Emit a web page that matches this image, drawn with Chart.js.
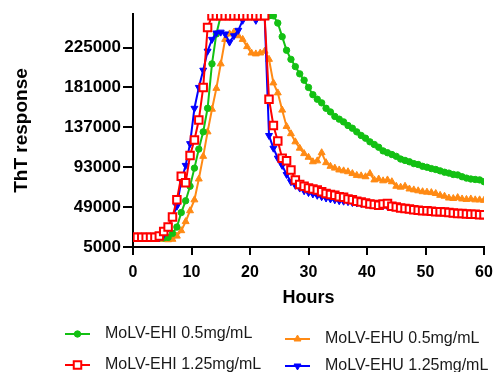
<!DOCTYPE html>
<html lang="en">
<head>
<meta charset="UTF-8">
<title>ThT response</title>
<script src="https://cdn.jsdelivr.net/npm/chart.js"></script>
<style>
  html, body { margin: 0; padding: 0; background: #fff; }
</style>
</head>
<body>
<canvas id="thtChart" width="495" height="372"></canvas>
<script>
// sampling times (hours), one read every 45 min
const hours = [0, 0.75, 1.5, 2.25, 3, 3.75, 4.5, 5.25, 6, 6.75, 7.5, 8.25, 9, 9.75, 10.5, 11.25,
  12, 12.75, 13.5, 14.25, 15, 15.75, 16.5, 17.25, 18, 18.75, 19.5, 20.25, 21, 21.75, 22.5, 23.25,
  24, 24.75, 25.5, 26.25, 27, 27.75, 28.5, 29.25, 30, 30.75, 31.5, 32.25, 33, 33.75, 34.5, 35.25,
  36, 36.75, 37.5, 38.25, 39, 39.75, 40.5, 41.25, 42, 42.75, 43.5, 44.25, 45, 45.75, 46.5, 47.25,
  48, 48.75, 49.5, 50.25, 51, 51.75, 52.5, 53.25, 54, 54.75, 55.5, 56.25, 57, 57.75, 58.5, 59.25, 60];

const ehi05 = [15000, 15000, 15000, 15000, 15000, 15000, 15000, 15000,
  15500, 20000, 27000, 43000, 56000, 72000, 92000, 113000, 132000, 158000, 207000, 240000,
  260000, 260000, 260000, 260000, 260000, 260000, 260000, 260000, 260000, 260000, 260000, 260000, 260000,
  252000, 237000, 222000, 212000, 204000, 196000, 189000, 181000, 173000, 168000,
  164000, 158000, 154000, 149000, 146000, 143000, 139000, 136000, 132000, 128000,
  125000, 121000, 118000, 115000, 111000, 109000, 107000, 105000, 102000, 100500,
  99000, 97000, 96000, 94000, 93000, 91500, 90500, 89000, 87500, 86500,
  85000, 84500, 82500, 81000, 80000, 79500, 79000, 77000];

const ehu05 = [13500, 13500, 13500, 13500, 13500, 13500, 13500, 13500,
  13000, 13500, 17000, 23000, 33000, 45000, 57000, 80000, 105000, 132000, 157000, 180000,
  207000, 234000, 240000, 242000, 238000, 234000, 226000, 219000, 218000, 219000, 221000,
  212000, 186000, 175000, 156000, 138000, 130000, 121000, 114000, 108000, 104000,
  99000, 100000, 109000, 98000, 94000, 92000, 90000, 89000, 88000, 86000,
  84000, 83500, 82500, 86000, 79000, 80000, 78000, 79000, 77000, 72000,
  71000, 72000, 69000, 68000, 67000, 66000, 65500, 65000, 64000, 62000,
  61000, 59000, 58500, 59500, 58000, 57500, 58000, 57000, 57000, 56500];

const ehi125 = [15700, 15700, 15700, 15700, 15700, 15700, 17000,
  22000, 27000, 38000, 57000, 83000, 76000, 106000, 123000, 145000, 181000, 247000,
  260000, 260000, 260000, 260000, 260000, 260000, 260000, 260000, 260000, 260000, 260000, 260000, 260000,
  168000, 139000, 122000, 103000, 100000, 90000, 79000, 74000, 72000, 70000,
  69000, 68000, 66000, 64000, 63000, 62000, 60500, 60000, 58000, 57000,
  55500, 54500, 53500, 52500, 52000, 51000, 52500, 53000, 50000, 49000,
  48000, 47500, 47000, 46000, 45500, 45000, 45000, 44500, 44000, 43800,
  43500, 43000, 42500, 42000, 42000, 41500, 41000, 41000, 40500, 40500];

const ehu125 = [15500, 15500, 15500, 15500, 15500, 15500, 15500,
  19000, 26000, 38000, 50000, 78000, 95000, 119000, 158000, 181000, 200000, 221000,
  234000, 241000, 242000, 240000, 231000, 238000, 244000, 255000, 260000, 260000, 255000, 260000, 260000,
  128000, 114000, 103000, 95000, 85000, 77000, 73000, 70000, 67000, 65000,
  63500, 62000, 60500, 59000, 58000, 57000, 56000, 55500, 55000, 54000,
  53500, 53000, 52500, 52000, 51500, 51000, 50500, 50000, 49500, 49000,
  48500, 48000, 47500, 47000, 46500, 46000, 45500, 45000, 45000, 44500,
  44500, 44000, 44000, 43500, 43500, 43000, 43000, 43000, 42500, 42500];

const seriesNames = ['MoLV-EHI 0.5mg/mL', 'MoLV-EHU 0.5mg/mL', 'MoLV-EHI 1.25mg/mL', 'MoLV-EHU 1.25mg/mL'];
const yTicks = [5000, 49000, 93000, 137000, 181000, 225000];

const FONT = "'Liberation Sans', Arial, sans-serif";
Chart.defaults.font.family = FONT;
Chart.defaults.color = '#000';

function toPoints(vals) {
  return hours.map((h, i) => ({ x: h, y: vals[i] }));
}

function drawMarker(ctx, ds, x, y) {
  const r = ds.pointRadius;
  ctx.save();
  ctx.translate(x, y);
  ctx.rotate((ds.pointRotation || 0) * Math.PI / 180);
  ctx.beginPath();
  if (ds.pointStyle === 'circle') {
    ctx.arc(0, 0, r, 0, Math.PI * 2);
  } else if (ds.pointStyle === 'rect') {
    const s = r * Math.SQRT1_2;
    ctx.rect(-s, -s, 2 * s, 2 * s);
  } else {
    ctx.moveTo(0, -r);
    ctx.lineTo(r * 0.866, r * 0.5);
    ctx.lineTo(-r * 0.866, r * 0.5);
    ctx.closePath();
  }
  ctx.fillStyle = ds.pointBackgroundColor || ds.borderColor;
  ctx.fill();
  ctx.lineWidth = ds.pointBorderWidth || 1;
  ctx.strokeStyle = ds.borderColor;
  ctx.stroke();
  ctx.restore();
}

// two-column legend under the axis, line + marker + label
const lineLegend = {
  id: 'lineLegend',
  afterDraw(chart) {
    const ctx = chart.ctx;
    const spots = [[65, 334], [285, 339], [65, 365], [285, 366]];
    chart.data.datasets.forEach((ds, i) => {
      const [x, y] = spots[i];
      ctx.save();
      ctx.strokeStyle = ds.borderColor;
      ctx.lineWidth = 2;
      ctx.beginPath();
      ctx.moveTo(x, y);
      ctx.lineTo(x + 25, y);
      ctx.stroke();
      ctx.restore();
      drawMarker(ctx, ds, x + 12.5, y);
      ctx.save();
      ctx.fillStyle = '#1a1a1a';
      ctx.font = '16px ' + FONT;
      ctx.textBaseline = 'middle';
      ctx.textAlign = 'left';
      ctx.fillText(ds.label, x + 40, y);
      ctx.restore();
    });
  }
};

const ctx = document.getElementById('thtChart').getContext('2d');
new Chart(ctx, {
  type: 'line',
  data: {
    datasets: [{
      label: seriesNames[0],
      data: toPoints(ehi05),
      borderColor: '#13c013',
      backgroundColor: '#13c013',
      pointBackgroundColor: '#13c013',
      pointStyle: 'circle',
      pointRadius: 3.2,
      pointBorderWidth: 1,
      borderWidth: 2,
      order: 3
    }, {
      label: seriesNames[1],
      data: toPoints(ehu05),
      borderColor: '#ff8a14',
      backgroundColor: '#ff8a14',
      pointBackgroundColor: '#ff8a14',
      pointStyle: 'triangle',
      pointRadius: 4,
      pointBorderWidth: 1,
      borderWidth: 2,
      order: 4
    }, {
      label: seriesNames[2],
      data: toPoints(ehi125),
      borderColor: '#ff0000',
      backgroundColor: '#ffffff',
      pointBackgroundColor: '#ffffff',
      pointStyle: 'rect',
      pointRadius: 5.3,
      pointBorderWidth: 2,
      borderWidth: 2,
      order: 1
    }, {
      label: seriesNames[3],
      data: toPoints(ehu125),
      borderColor: '#0000ff',
      backgroundColor: '#0000ff',
      pointBackgroundColor: '#0000ff',
      pointStyle: 'triangle',
      pointRotation: 180,
      pointRadius: 4,
      pointBorderWidth: 1,
      borderWidth: 2,
      order: 2
    }]
  },
  options: {
    responsive: false,
    animation: false,
    layout: { padding: { left: 0, top: 14, right: 11, bottom: 61 } },
    plugins: {
      legend: { display: false },
      tooltip: { enabled: false }
    },
    scales: {
      x: {
        type: 'linear',
        min: 0,
        max: 60,
        ticks: {
          stepSize: 10,
          maxRotation: 0,
          padding: 2,
          color: '#000',
          font: { size: 16, weight: 'bold', lineHeight: 2 }
        },
        grid: { drawOnChartArea: false, drawTicks: true, tickLength: 8, color: '#000', lineWidth: 2 },
        border: { color: '#000', width: 2 },
        title: {
          display: true,
          text: 'Hours',
          color: '#000',
          font: { size: 18, weight: 'bold' },
          padding: { top: 0, bottom: 2 }
        },
        afterFit(scale) { scale.height = 64; }
      },
      y: {
        min: 5000,
        max: 262000,
        afterBuildTicks(scale) { scale.ticks = yTicks.map(v => ({ value: v })); },
        ticks: {
          padding: 2,
          color: '#000',
          font: { size: 17, weight: 'bold' },
          callback: v => String(v)
        },
        grid: { drawOnChartArea: false, drawTicks: true, tickLength: 10, color: '#000', lineWidth: 2 },
        border: { color: '#000', width: 2 },
        title: {
          display: true,
          text: 'ThT response',
          color: '#000',
          font: { size: 19, weight: 'bold' },
          padding: { top: 10, bottom: 0 }
        },
        afterFit(scale) { scale.width = 133; }
      }
    }
  },
  plugins: [lineLegend]
});
</script>
</body>
</html>
